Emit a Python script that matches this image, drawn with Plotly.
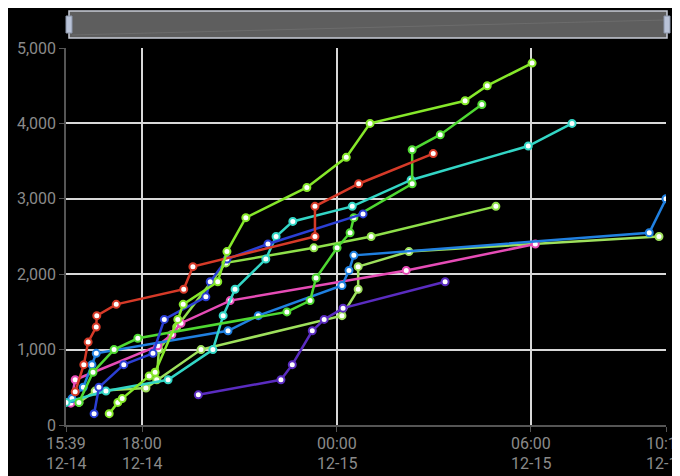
import plotly.graph_objects as go

YEAR = "2023-"

# ---- data (time "MM-DD HH:MM", value) ----
red_t = ["12-14 15:56", "12-14 16:12", "12-14 16:20", "12-14 16:35", "12-14 16:36", "12-14 17:12",
         "12-14 19:17", "12-14 19:34", "12-14 23:20", "12-14 23:20", "12-15 00:41", "12-15 02:59"]
red_v = [440, 800, 1100, 1300, 1450, 1600, 1800, 2100, 2500, 2900, 3200, 3600]

pink_t = ["12-14 15:48", "12-14 15:56", "12-14 18:29", "12-14 18:55", "12-14 19:12", "12-14 20:43",
          "12-15 02:09", "12-15 06:08"]
pink_v = [290, 600, 1050, 1200, 1350, 1650, 2050, 2400]

navy_t = ["12-14 16:31", "12-14 16:40", "12-14 17:26", "12-14 18:20", "12-14 18:41", "12-14 19:58",
          "12-14 20:06", "12-14 20:37", "12-14 21:53", "12-15 00:49"]
navy_v = [150, 500, 800, 950, 1400, 1700, 1900, 2200, 2400, 2800]

blue_t = ["12-14 15:50", "12-14 16:11", "12-14 16:27", "12-14 16:35", "12-14 20:39", "12-14 21:35",
          "12-15 00:10", "12-15 00:23", "12-15 00:32", "12-15 09:39", "12-15 10:10"]
blue_v = [350, 500, 800, 950, 1250, 1450, 1850, 2050, 2250, 2550, 3000]

cyan_t = ["12-14 15:39", "12-14 16:53", "12-14 18:48", "12-14 20:11", "12-14 20:30", "12-14 20:52",
          "12-14 21:49", "12-14 22:08", "12-14 22:39", "12-15 00:29", "12-15 02:18", "12-15 05:55",
          "12-15 07:16"]
cyan_v = [300, 450, 600, 1000, 1450, 1800, 2200, 2500, 2700, 2900, 3250, 3700, 4000]

purple_t = ["12-14 19:44", "12-14 22:17", "12-14 22:38", "12-14 23:15", "12-14 23:37", "12-15 00:12",
            "12-15 03:21"]
purple_v = [400, 600, 800, 1250, 1400, 1550, 1900]

green_t = ["12-14 16:03", "12-14 16:29", "12-14 17:08", "12-14 17:52", "12-14 22:28", "12-14 23:11",
           "12-14 23:22", "12-15 00:01", "12-15 00:25", "12-15 00:32", "12-15 02:20", "12-15 02:20",
           "12-15 03:12", "12-15 04:29"]
green_v = [300, 700, 1000, 1150, 1500, 1650, 1950, 2350, 2550, 2750, 3200, 3650, 3850, 4250]

lime_t = ["12-14 16:59", "12-14 17:15", "12-14 17:23", "12-14 18:13", "12-14 18:24", "12-14 19:06",
          "12-14 19:16", "12-14 20:20", "12-14 20:37", "12-14 21:12", "12-14 23:05", "12-15 00:18",
          "12-15 01:02", "12-15 03:58", "12-15 04:39", "12-15 06:02"]
lime_v = [150, 300, 350, 650, 700, 1400, 1600, 1900, 2300, 2750, 3150, 3550, 4000, 4300, 4500, 4800]

light_t = ["12-14 18:27", "12-14 18:31", "12-14 19:04", "12-14 20:35", "12-14 23:18", "12-15 01:04",
           "12-15 04:55"]
light_v = [600, 1000, 1300, 2150, 2350, 2500, 2900]

pale_t = ["12-14 16:03", "12-14 16:33", "12-14 18:07", "12-14 19:49", "12-15 00:10", "12-15 00:40",
          "12-15 00:40", "12-15 02:14", "12-15 09:57"]
pale_v = [300, 450, 490, 1000, 1450, 1800, 2100, 2300, 2500]

x_tickvals = ["12-14 15:39", "12-14 18:00", "12-15 00:00", "12-15 06:00", "12-15 10:10"]
x_time_labels = ["15:39", "18:00", "00:00", "06:00", "10:10"]
x_date_labels = ["12-14", "12-14", "12-15", "12-15", "12-15"]
y_tickvals = [0, 1000, 2000, 3000, 4000, 5000]

series = [
    (pale_t, pale_v, "#9ee05c"),
    (light_t, light_v, "#8fe04a"),
    (purple_t, purple_v, "#5a2cc0"),
    (pink_t, pink_v, "#e64cb6"),
    (blue_t, blue_v, "#2080e0"),
    (cyan_t, cyan_v, "#33d6c6"),
    (green_t, green_v, "#4fd932"),
    (navy_t, navy_v, "#2b3fd4"),
    (red_t, red_v, "#d63a28"),
    (lime_t, lime_v, "#86e82a"),
]

def full(ts):
    return [YEAR + t for t in ts]

fig = go.Figure()
for ts, vs, col in series:
    fig.add_trace(go.Scatter(
        x=full(ts), y=vs, mode="lines+markers",
        line=dict(color=col, width=2.5),
        marker=dict(size=7, color="white", line=dict(color=col, width=2)),
        showlegend=False, hoverinfo="x+y"))

LABEL_COLOR = "#8a8a8a"
FONT = "Roboto"

# page has an 8px body margin; figure is sized/offset to compensate
fig.update_layout(
    width=672, height=468,
    paper_bgcolor="black", plot_bgcolor="black",
    margin=dict(l=58, r=14, t=40, b=51, autoexpand=False),
    font=dict(family=FONT, size=16, color=LABEL_COLOR),
    xaxis=dict(type="date", range=[YEAR + x_tickvals[0], YEAR + x_tickvals[-1]],
               tickvals=full(x_tickvals), showticklabels=False,
               showgrid=True, gridcolor="#d8d8d8", gridwidth=1.5,
               showline=True, linecolor="#555555", linewidth=1.5,
               ticks="outside", ticklen=5, tickcolor="#555555",
               zeroline=False, fixedrange=True, automargin=False),
    yaxis=dict(range=[0, 5000], tickvals=y_tickvals, tickformat=",",
               showgrid=True, gridcolor="#d8d8d8", gridwidth=1.5,
               showline=True, linecolor="#555555", linewidth=1.5,
               ticks="outside", ticklen=5, tickcolor="#555555",
               zeroline=False, fixedrange=True, automargin=False),
)

# page-pixel helpers for decorations
def px_x(p):
    return (p - 66) / 600.0

def px_y(p):
    return (425 - p) / 377.0

# two-line x tick labels (time / date)
for tv, tl, dl in zip(x_tickvals, x_time_labels, x_date_labels):
    fig.add_annotation(x=YEAR + tv, y=px_y(444), xref="x", yref="paper",
                       text=tl, showarrow=False, xanchor="center", yanchor="middle",
                       font=dict(family=FONT, size=16, color=LABEL_COLOR))
    fig.add_annotation(x=YEAR + tv, y=px_y(463), xref="x", yref="paper",
                       text=dl, showarrow=False, xanchor="center", yanchor="middle",
                       font=dict(family=FONT, size=16, color=LABEL_COLOR))

# data-zoom style slider at the top (decoration)
shapes = [
    dict(type="rect", xref="paper", yref="paper", x0=px_x(69), x1=px_x(667), y0=px_y(38), y1=px_y(11),
         fillcolor="#5e5e5e", line=dict(color="#c8ccd6", width=1.5), layer="above"),
    dict(type="line", xref="paper", yref="paper", x0=px_x(72), x1=px_x(664), y0=px_y(35), y1=px_y(20),
         line=dict(color="#6c6c6c", width=1), layer="above"),
    dict(type="rect", xref="paper", yref="paper", x0=px_x(66), x1=px_x(72), y0=px_y(33), y1=px_y(16),
         fillcolor="#b9c3d8", line=dict(color="#8c96aa", width=1), layer="above"),
    dict(type="rect", xref="paper", yref="paper", x0=px_x(664), x1=px_x(670), y0=px_y(33), y1=px_y(16),
         fillcolor="#b9c3d8", line=dict(color="#8c96aa", width=1), layer="above"),
]
fig.update_layout(shapes=shapes)

fig.write_html("out.html")
